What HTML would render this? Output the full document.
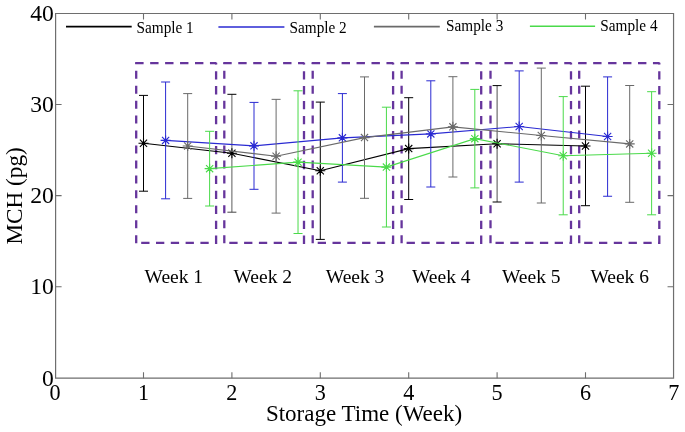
<!DOCTYPE html><html><head><meta charset="utf-8"><style>html,body{margin:0;padding:0;background:#fff;}svg{display:block;will-change:transform;}text{font-family:"Liberation Serif",serif;fill:#000;}</style></head><body>
<svg width="685" height="432" viewBox="0 0 685 432">
<rect width="685" height="432" fill="#fff"/>
<path d="M55.6 13.5H673.55V378.2H55.6Z" fill="none" stroke="#6e6e6e" stroke-width="1.2"/>
<path d="M143.50 378.2v-6M143.50 13.5v6M231.90 378.2v-6M231.90 13.5v6M320.30 378.2v-6M320.30 13.5v6M408.70 378.2v-6M408.70 13.5v6M497.10 378.2v-6M497.10 13.5v6M585.50 378.2v-6M585.50 13.5v6M55.6 286.70h6M673.55 286.70h-6M55.6 195.60h6M673.55 195.60h-6M55.6 104.50h6M673.55 104.50h-6" fill="none" stroke="#6e6e6e" stroke-width="1.1"/>
<text transform="translate(55.10,399.7) scale(0.94,1.0)" font-size="23.6" text-anchor="middle">0</text>
<text transform="translate(143.50,399.7) scale(0.94,1.0)" font-size="23.6" text-anchor="middle">1</text>
<text transform="translate(231.90,399.7) scale(0.94,1.0)" font-size="23.6" text-anchor="middle">2</text>
<text transform="translate(320.30,399.7) scale(0.94,1.0)" font-size="23.6" text-anchor="middle">3</text>
<text transform="translate(408.70,399.7) scale(0.94,1.0)" font-size="23.6" text-anchor="middle">4</text>
<text transform="translate(497.10,399.7) scale(0.94,1.0)" font-size="23.6" text-anchor="middle">5</text>
<text transform="translate(585.50,399.7) scale(0.94,1.0)" font-size="23.6" text-anchor="middle">6</text>
<text transform="translate(673.90,399.7) scale(0.94,1.0)" font-size="23.6" text-anchor="middle">7</text>
<text transform="translate(53.9,385.50)" font-size="23.6" text-anchor="end">0</text>
<text transform="translate(53.9,294.40)" font-size="23.6" text-anchor="end">10</text>
<text transform="translate(53.9,203.30)" font-size="23.6" text-anchor="end">20</text>
<text transform="translate(53.9,112.20)" font-size="23.6" text-anchor="end">30</text>
<text transform="translate(53.9,21.10)" font-size="23.6" text-anchor="end">40</text>
<text x="364" y="421.3" font-size="23" text-anchor="middle">Storage Time (Week)</text>
<text transform="translate(22.2,195.9) rotate(-90)" font-size="23.2" text-anchor="middle">MCH (pg)</text>
<line x1="135.20" y1="63.20" x2="216.40" y2="63.20" stroke="#66359c" stroke-width="2.3" stroke-dasharray="8.4 6.55" stroke-dashoffset="0"/>
<line x1="216.10" y1="243.90" x2="216.10" y2="62.70" stroke="#66359c" stroke-width="2.3" stroke-dasharray="8.3 6.65" stroke-dashoffset="0"/>
<line x1="136.20" y1="243.20" x2="136.20" y2="62.70" stroke="#66359c" stroke-width="2.3" stroke-dasharray="8.0 6.95" stroke-dashoffset="0"/>
<line x1="141.20" y1="242.90" x2="216.10" y2="242.90" stroke="#66359c" stroke-width="2.3" stroke-dasharray="8.3 6.5" stroke-dashoffset="0"/>
<line x1="223.30" y1="63.20" x2="304.30" y2="63.20" stroke="#66359c" stroke-width="2.3" stroke-dasharray="8.4 6.55" stroke-dashoffset="0"/>
<line x1="304.00" y1="243.90" x2="304.00" y2="62.70" stroke="#66359c" stroke-width="2.3" stroke-dasharray="8.3 6.65" stroke-dashoffset="0"/>
<line x1="224.30" y1="243.20" x2="224.30" y2="62.70" stroke="#66359c" stroke-width="2.3" stroke-dasharray="8.0 6.95" stroke-dashoffset="0"/>
<line x1="229.30" y1="242.90" x2="304.00" y2="242.90" stroke="#66359c" stroke-width="2.3" stroke-dasharray="8.3 6.5" stroke-dashoffset="0"/>
<line x1="311.70" y1="63.20" x2="393.40" y2="63.20" stroke="#66359c" stroke-width="2.3" stroke-dasharray="8.4 6.55" stroke-dashoffset="0"/>
<line x1="393.10" y1="243.90" x2="393.10" y2="62.70" stroke="#66359c" stroke-width="2.3" stroke-dasharray="8.3 6.65" stroke-dashoffset="0"/>
<line x1="312.70" y1="243.20" x2="312.70" y2="62.70" stroke="#66359c" stroke-width="2.3" stroke-dasharray="8.0 6.95" stroke-dashoffset="0"/>
<line x1="317.70" y1="242.90" x2="393.10" y2="242.90" stroke="#66359c" stroke-width="2.3" stroke-dasharray="8.3 6.5" stroke-dashoffset="0"/>
<line x1="400.60" y1="63.20" x2="481.50" y2="63.20" stroke="#66359c" stroke-width="2.3" stroke-dasharray="8.4 6.55" stroke-dashoffset="0"/>
<line x1="481.20" y1="243.90" x2="481.20" y2="62.70" stroke="#66359c" stroke-width="2.3" stroke-dasharray="8.3 6.65" stroke-dashoffset="0"/>
<line x1="401.60" y1="243.20" x2="401.60" y2="62.70" stroke="#66359c" stroke-width="2.3" stroke-dasharray="8.0 6.95" stroke-dashoffset="0"/>
<line x1="406.60" y1="242.90" x2="481.20" y2="242.90" stroke="#66359c" stroke-width="2.3" stroke-dasharray="8.3 6.5" stroke-dashoffset="0"/>
<line x1="489.50" y1="63.20" x2="571.30" y2="63.20" stroke="#66359c" stroke-width="2.3" stroke-dasharray="8.4 6.55" stroke-dashoffset="0"/>
<line x1="571.00" y1="243.90" x2="571.00" y2="62.70" stroke="#66359c" stroke-width="2.3" stroke-dasharray="8.3 6.65" stroke-dashoffset="0"/>
<line x1="490.50" y1="243.20" x2="490.50" y2="62.70" stroke="#66359c" stroke-width="2.3" stroke-dasharray="8.0 6.95" stroke-dashoffset="0"/>
<line x1="495.50" y1="242.90" x2="571.00" y2="242.90" stroke="#66359c" stroke-width="2.3" stroke-dasharray="8.3 6.5" stroke-dashoffset="0"/>
<line x1="578.20" y1="63.20" x2="659.60" y2="63.20" stroke="#66359c" stroke-width="2.3" stroke-dasharray="8.4 6.55" stroke-dashoffset="0"/>
<line x1="659.30" y1="243.90" x2="659.30" y2="62.70" stroke="#66359c" stroke-width="2.3" stroke-dasharray="8.3 6.65" stroke-dashoffset="0"/>
<line x1="579.20" y1="243.20" x2="579.20" y2="62.70" stroke="#66359c" stroke-width="2.3" stroke-dasharray="8.0 6.95" stroke-dashoffset="0"/>
<line x1="584.20" y1="242.90" x2="659.30" y2="242.90" stroke="#66359c" stroke-width="2.3" stroke-dasharray="8.3 6.5" stroke-dashoffset="0"/>
<text x="144.6" y="282.8" font-size="19.5">Week 1</text>
<text x="233.5" y="282.8" font-size="19.5">Week 2</text>
<text x="325.8" y="282.8" font-size="19.5">Week 3</text>
<text x="412.0" y="282.8" font-size="19.5">Week 4</text>
<text x="502.0" y="282.8" font-size="19.5">Week 5</text>
<text x="590.4" y="282.8" font-size="19.5">Week 6</text>
<g fill="none" stroke-width="1">
<path d="M143.5 95.4V191.2" stroke="#000000"/><path d="M139.0 95.4H148.0" stroke="#000000"/><path d="M139.0 191.2H148.0" stroke="#000000"/>
<path d="M231.9 94.3V212.2" stroke="#5c5c5c"/><path d="M227.4 94.3H236.4" stroke="#000000"/><path d="M227.4 212.2H236.4" stroke="#444444"/>
<path d="M320.3 102.1V239.4" stroke="#000000"/><path d="M315.8 102.1H324.8" stroke="#000000"/><path d="M315.8 239.4H324.8" stroke="#000000"/>
<path d="M408.7 97.7V199.5" stroke="#000000"/><path d="M404.2 97.7H413.2" stroke="#000000"/><path d="M404.2 199.5H413.2" stroke="#000000"/>
<path d="M497.1 85.6V202.0" stroke="#505050"/><path d="M492.6 85.6H501.6" stroke="#000000"/><path d="M492.6 202.0H501.6" stroke="#000000"/>
<path d="M585.5 86.2V205.7" stroke="#000000"/><path d="M581.0 86.2H590.0" stroke="#000000"/><path d="M581.0 205.7H590.0" stroke="#000000"/>
<polyline points="143.50,143.30 231.90,153.25 320.30,170.75 408.70,148.60 497.10,143.80 585.50,145.95" stroke="#000000" stroke-width="1.1"/>
<path d="M138.50 143.30h10.00M143.50 138.30v10.00M139.90 139.70l7.20 7.20M139.90 146.90l7.20 -7.20M226.90 153.25h10.00M231.90 148.25v10.00M228.30 149.65l7.20 7.20M228.30 156.85l7.20 -7.20M315.30 170.75h10.00M320.30 165.75v10.00M316.70 167.15l7.20 7.20M316.70 174.35l7.20 -7.20M403.70 148.60h10.00M408.70 143.60v10.00M405.10 145.00l7.20 7.20M405.10 152.20l7.20 -7.20M492.10 143.80h10.00M497.10 138.80v10.00M493.50 140.20l7.20 7.20M493.50 147.40l7.20 -7.20M580.50 145.95h10.00M585.50 140.95v10.00M581.90 142.35l7.20 7.20M581.90 149.55l7.20 -7.20" stroke="#000000" stroke-width="1.1"/>
<path d="M165.6 82.0V198.8" stroke="#2a2ad2"/><path d="M161.1 82.0H170.1" stroke="#2a2ad2"/><path d="M161.1 198.8H170.1" stroke="#2a2ad2"/>
<path d="M254.0 102.4V189.3" stroke="#2a2ad2"/><path d="M249.5 102.4H258.5" stroke="#2a2ad2"/><path d="M249.5 189.3H258.5" stroke="#2a2ad2"/>
<path d="M342.4 93.6V182.1" stroke="#2a2ad2"/><path d="M337.9 93.6H346.9" stroke="#2a2ad2"/><path d="M337.9 182.1H346.9" stroke="#2a2ad2"/>
<path d="M430.8 80.8V187.0" stroke="#2a2ad2"/><path d="M426.3 80.8H435.3" stroke="#2a2ad2"/><path d="M426.3 187.0H435.3" stroke="#2a2ad2"/>
<path d="M519.2 70.9V182.1" stroke="#2a2ad2"/><path d="M514.7 70.9H523.7" stroke="#2a2ad2"/><path d="M514.7 182.1H523.7" stroke="#2a2ad2"/>
<path d="M607.6 76.9V196.25" stroke="#2a2ad2"/><path d="M603.1 76.9H612.1" stroke="#2a2ad2"/><path d="M603.1 196.25H612.1" stroke="#2a2ad2"/>
<polyline points="165.60,140.40 254.00,145.85 342.40,137.85 430.80,133.90 519.20,126.50 607.60,136.57" stroke="#2a2ad2" stroke-width="1.1"/>
<path d="M160.60 140.40h10.00M165.60 135.40v10.00M162.00 136.80l7.20 7.20M162.00 144.00l7.20 -7.20M249.00 145.85h10.00M254.00 140.85v10.00M250.40 142.25l7.20 7.20M250.40 149.45l7.20 -7.20M337.40 137.85h10.00M342.40 132.85v10.00M338.80 134.25l7.20 7.20M338.80 141.45l7.20 -7.20M425.80 133.90h10.00M430.80 128.90v10.00M427.20 130.30l7.20 7.20M427.20 137.50l7.20 -7.20M514.20 126.50h10.00M519.20 121.50v10.00M515.60 122.90l7.20 7.20M515.60 130.10l7.20 -7.20M602.60 136.57h10.00M607.60 131.57v10.00M604.00 132.97l7.20 7.20M604.00 140.17l7.20 -7.20" stroke="#2a2ad2" stroke-width="1.1"/>
<path d="M187.7 93.6V198.4" stroke="#6a6a6a"/><path d="M183.2 93.6H192.2" stroke="#6a6a6a"/><path d="M183.2 198.4H192.2" stroke="#6a6a6a"/>
<path d="M276.1 99.35V213.1" stroke="#6a6a6a"/><path d="M271.6 99.35H280.6" stroke="#6a6a6a"/><path d="M271.6 213.1H280.6" stroke="#6a6a6a"/>
<path d="M364.5 76.9V198.3" stroke="#6a6a6a"/><path d="M360.0 76.9H369.0" stroke="#6a6a6a"/><path d="M360.0 198.3H369.0" stroke="#6a6a6a"/>
<path d="M452.9 76.7V177.0" stroke="#6a6a6a"/><path d="M448.4 76.7H457.4" stroke="#6a6a6a"/><path d="M448.4 177.0H457.4" stroke="#6a6a6a"/>
<path d="M541.3 68.1V203.0" stroke="#6a6a6a"/><path d="M536.8 68.1H545.8" stroke="#6a6a6a"/><path d="M536.8 203.0H545.8" stroke="#6a6a6a"/>
<path d="M629.7 85.5V202.3" stroke="#6a6a6a"/><path d="M625.2 85.5H634.2" stroke="#6a6a6a"/><path d="M625.2 202.3H634.2" stroke="#6a6a6a"/>
<polyline points="187.70,146.00 276.10,156.22 364.50,137.60 452.90,126.85 541.30,135.55 629.70,143.90" stroke="#6a6a6a" stroke-width="1.1"/>
<path d="M182.70 146.00h10.00M187.70 141.00v10.00M184.10 142.40l7.20 7.20M184.10 149.60l7.20 -7.20M271.10 156.22h10.00M276.10 151.22v10.00M272.50 152.62l7.20 7.20M272.50 159.82l7.20 -7.20M359.50 137.60h10.00M364.50 132.60v10.00M360.90 134.00l7.20 7.20M360.90 141.20l7.20 -7.20M447.90 126.85h10.00M452.90 121.85v10.00M449.30 123.25l7.20 7.20M449.30 130.45l7.20 -7.20M536.30 135.55h10.00M541.30 130.55v10.00M537.70 131.95l7.20 7.20M537.70 139.15l7.20 -7.20M624.70 143.90h10.00M629.70 138.90v10.00M626.10 140.30l7.20 7.20M626.10 147.50l7.20 -7.20" stroke="#6a6a6a" stroke-width="1.1"/>
<path d="M209.62 131.3V206.0" stroke="#4ada4a"/><path d="M205.12 131.3H214.12" stroke="#4ada4a"/><path d="M205.12 206.0H214.12" stroke="#4ada4a"/>
<path d="M298.02 90.8V233.5" stroke="#4ada4a"/><path d="M293.52 90.8H302.52" stroke="#4ada4a"/><path d="M293.52 233.5H302.52" stroke="#4ada4a"/>
<path d="M386.42 107.2V227.0" stroke="#4ada4a"/><path d="M381.92 107.2H390.92" stroke="#4ada4a"/><path d="M381.92 227.0H390.92" stroke="#4ada4a"/>
<path d="M474.82 89.4V187.9" stroke="#4ada4a"/><path d="M470.32 89.4H479.32" stroke="#4ada4a"/><path d="M470.32 187.9H479.32" stroke="#4ada4a"/>
<path d="M563.22 96.6V214.8" stroke="#4ada4a"/><path d="M558.72 96.6H567.72" stroke="#4ada4a"/><path d="M558.72 214.8H567.72" stroke="#4ada4a"/>
<path d="M651.62 91.7V214.8" stroke="#4ada4a"/><path d="M647.12 91.7H656.12" stroke="#4ada4a"/><path d="M647.12 214.8H656.12" stroke="#4ada4a"/>
<polyline points="209.62,168.65 298.02,162.15 386.42,167.10 474.82,138.65 563.22,155.70 651.62,153.25" stroke="#4ada4a" stroke-width="1.1"/>
<path d="M204.62 168.65h10.00M209.62 163.65v10.00M206.02 165.05l7.20 7.20M206.02 172.25l7.20 -7.20M293.02 162.15h10.00M298.02 157.15v10.00M294.42 158.55l7.20 7.20M294.42 165.75l7.20 -7.20M381.42 167.10h10.00M386.42 162.10v10.00M382.82 163.50l7.20 7.20M382.82 170.70l7.20 -7.20M469.82 138.65h10.00M474.82 133.65v10.00M471.22 135.05l7.20 7.20M471.22 142.25l7.20 -7.20M558.22 155.70h10.00M563.22 150.70v10.00M559.62 152.10l7.20 7.20M559.62 159.30l7.20 -7.20M646.62 153.25h10.00M651.62 148.25v10.00M648.02 149.65l7.20 7.20M648.02 156.85l7.20 -7.20" stroke="#4ada4a" stroke-width="1.1"/>
</g>
<line x1="66.0" y1="26.55" x2="131.7" y2="26.55" stroke="#000000" stroke-width="1.7"/>
<text transform="translate(136.5,32.5) scale(0.955,1)" font-size="16">Sample 1</text>
<line x1="218.4" y1="27.0" x2="284.4" y2="27.0" stroke="#2a2ad2" stroke-width="1.7"/>
<text transform="translate(289.5,32.5) scale(0.955,1)" font-size="16">Sample 2</text>
<line x1="373.9" y1="26.55" x2="439.8" y2="26.55" stroke="#6a6a6a" stroke-width="1.7"/>
<text transform="translate(446.1,31.4) scale(0.955,1)" font-size="16">Sample 3</text>
<line x1="529.9" y1="26.25" x2="595.1" y2="26.25" stroke="#4ada4a" stroke-width="1.7"/>
<text transform="translate(600.3,31.4) scale(0.955,1)" font-size="16">Sample 4</text>
</svg></body></html>
